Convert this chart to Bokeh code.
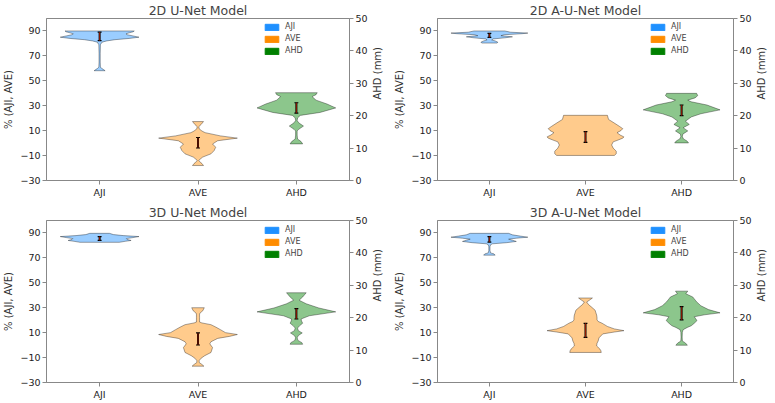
import math
from bokeh.plotting import figure
from bokeh.models import Range1d, LinearAxis, FixedTicker, Legend, LegendItem
from bokeh.layouts import column, row
from bokeh.embed import file_html
from bokeh.resources import INLINE

titles = ["2D U-Net Model", "2D A-U-Net Model", "3D U-Net Model", "3D A-U-Net Model"]
categories = ["AJI", "AVE", "AHD"]
left_ticks = [-30, -10, 10, 30, 50, 70, 90]
right_ticks = [0, 10, 20, 30, 40, 50]

# violin outlines: levels (axis units) and relative half-width (0..1)
unet2d_aji_y = [58.1, 59.0, 60.0, 61.0, 65, 72, 79, 81.0, 82.0, 83.0, 84.0, 85.0, 86.0, 87.0, 87.7, 88.5, 89.3, 90.0]
unet2d_aji_r = [0.14, 0.10, 0.05, 0.02, 0.015, 0.015, 0.02, 0.06, 0.18, 0.39, 0.75, 1.0, 0.85, 0.7, 0.67, 0.75, 0.85, 0.88]
unet2d_ave_y = [-18.0, -16.4, -14.5, -13.8, -11.2, -8.6, -6.0, -3.3, -0.7, 1.9, 4.0, 5.8, 8.4, 9.7, 11.5, 13.2, 15.0, 17.3]
unet2d_ave_r = [0.14, 0.10, 0.03, 0.02, 0.12, 0.33, 0.41, 0.45, 0.37, 0.5, 1.0, 0.57, 0.18, 0.1, 0.03, 0.02, 0.08, 0.14]
unet2d_ahd_y = [11.3, 12.0, 12.8, 14.0, 15.3, 15.8, 16.8, 17.8, 18.5, 19.3, 20.1, 21.0, 22.4, 23.6, 24.8, 25.9, 26.5, 27.1]
unet2d_ahd_r = [0.16, 0.12, 0.03, 0.02, 0.02, 0.06, 0.18, 0.06, 0.02, 0.03, 0.1, 0.6, 1.0, 0.78, 0.5, 0.4, 0.5, 0.53]

aunet2d_aji_y = [80.3, 81.0, 82.0, 82.8, 83.6, 84.5, 85.3, 86.2, 87.0, 87.8, 88.3, 89.0, 90.0]
aunet2d_aji_r = [0.2, 0.22, 0.15, 0.06, 0.1, 0.4, 0.6, 0.3, 0.4, 0.85, 1.0, 0.55, 0.4]
aunet2d_ave_y = [-9.9, -8.5, -6.5, -4.0, -1.5, 1.0, 2.5, 4.0, 5.0, 6.5, 8.4, 10.0, 11.6, 13.5, 16.3, 19.0, 22.3]
aunet2d_ave_r = [0.75, 0.8, 0.8, 0.72, 0.68, 0.72, 0.85, 0.97, 1.0, 0.9, 0.82, 0.92, 0.97, 0.88, 0.74, 0.6, 0.57]
aunet2d_ahd_y = [11.6, 12.2, 12.8, 13.5, 14.3, 15.3, 16.3, 17.3, 18.3, 19.6, 20.6, 21.8, 23.3, 24.3, 24.8, 25.5, 26.2, 26.9]
aunet2d_ahd_r = [0.18, 0.14, 0.05, 0.02, 0.03, 0.16, 0.04, 0.2, 0.1, 0.25, 0.5, 1.0, 0.66, 0.25, 0.16, 0.35, 0.42, 0.39]

unet3d_aji_y = [82.5, 83.3, 84.0, 84.8, 85.5, 86.3, 87.1, 87.9, 88.7, 89.7]
unet3d_aji_r = [0.5, 0.65, 0.8, 0.7, 0.68, 0.85, 1.0, 0.6, 0.35, 0.25]
unet3d_ave_y = [-16.9, -15.5, -14.0, -12.4, -10.5, -8.5, -5.9, -2.0, 1.0, 2.7, 5.4, 7.0, 8.5, 10.0, 12.4, 14.5, 16.4, 17.8, 18.5, 22.0, 25.0, 26.0, 27.5, 30.0]
unet3d_ave_r = [0.15, 0.1, 0.03, 0.03, 0.08, 0.17, 0.33, 0.37, 0.3, 0.33, 0.5, 0.8, 1.0, 0.7, 0.57, 0.45, 0.33, 0.1, 0.04, 0.04, 0.04, 0.06, 0.12, 0.16]
unet3d_ahd_y = [11.8, 12.3, 13.0, 13.8, 14.5, 15.3, 16.0, 16.8, 17.5, 18.3, 19.0, 19.6, 20.6, 21.8, 23.0, 24.3, 25.4, 26.4, 27.7]
unet3d_ahd_r = [0.16, 0.14, 0.04, 0.02, 0.05, 0.15, 0.05, 0.03, 0.08, 0.16, 0.13, 0.12, 0.33, 1.0, 0.57, 0.25, 0.07, 0.16, 0.25]

aunet3d_aji_y = [72.2, 73.2, 74.0, 76.0, 79.0, 80.5, 81.3, 82.2, 83.2, 84.2, 85.0, 85.8, 86.6, 87.5, 88.5, 89.7]
aunet3d_aji_r = [0.15, 0.12, 0.03, 0.015, 0.015, 0.03, 0.08, 0.45, 0.7, 0.6, 0.5, 0.7, 1.0, 0.8, 0.6, 0.5]
aunet3d_ave_y = [-5.9, -4.5, -3.0, -0.7, 1.5, 3.3, 5.8, 9.0, 10.5, 11.6, 13.0, 15.0, 17.6, 19.0, 20.2, 22.0, 24.1, 26.0, 28.0, 30.7, 32.5, 34.6, 36.0, 37.8]
aunet3d_ave_r = [0.41, 0.4, 0.37, 0.29, 0.3, 0.33, 0.35, 0.45, 0.75, 1.0, 0.75, 0.57, 0.43, 0.33, 0.30, 0.30, 0.29, 0.27, 0.25, 0.15, 0.08, 0.03, 0.1, 0.18]
aunet3d_ahd_y = [11.5, 12.2, 12.8, 14.0, 15.5, 16.3, 17.0, 17.5, 18.3, 19.1, 19.8, 20.3, 20.9, 21.5, 22.5, 23.7, 24.9, 25.8, 26.4, 27.0, 27.4, 28.2]
aunet3d_ahd_r = [0.15, 0.1, 0.02, 0.015, 0.02, 0.04, 0.15, 0.25, 0.33, 0.40, 0.36, 0.33, 0.6, 1.0, 0.7, 0.5, 0.39, 0.33, 0.29, 0.18, 0.11, 0.16]

# error bars (low, high) for AJI, AVE (%), AHD (mm)
unet2d_lo = [82.2, -3.9, 20.8]
unet2d_hi = [89.0, 4.5, 24.0]
aunet2d_lo = [84.8, 0.6, 20.0]
aunet2d_hi = [88.0, 9.2, 23.3]
unet3d_lo = [84.0, 0.1, 19.6]
unet3d_hi = [87.1, 9.8, 22.8]
aunet3d_lo = [82.7, 6.2, 19.3]
aunet3d_hi = [87.1, 17.5, 23.4]

colors = ["#1E90FF", "#FF8C00", "#008000"]
FONT = "DejaVu Sans"
HALF = 0.4
NAN = float("nan")


def violin(p, pos, ys, rs, color, range_name="default"):
    xs = [pos + HALF * r for r in rs] + [pos - HALF * r for r in reversed(rs)]
    yy = list(ys) + list(reversed(ys))
    p.patch(xs, yy, fill_color=color, fill_alpha=0.45, line_color="black", line_alpha=0.35,
            line_width=1, y_range_name=range_name)


def make_fig(title, data, lo, hi, width, height, left, right, top, bottom):
    p = figure(width=width, height=height, x_range=Range1d(0.46, 3.54), y_range=Range1d(-30, 100),
               output_backend="svg", toolbar_location=None, title=title,
               min_border_left=left, min_border_right=right, min_border_top=top, min_border_bottom=bottom)
    p.extra_y_ranges = {"ahd": Range1d(0, 50)}
    p.xgrid.visible = False
    p.ygrid.visible = False
    p.outline_line_color = "#888888"
    p.title.text_font = FONT
    p.title.text_font_size = "12.5px"
    p.title.text_font_style = "normal"
    p.title.align = "center"
    p.title.standoff = 1
    p.title.offset = 0

    (aji_y, aji_r), (ave_y, ave_r), (ahd_y, ahd_r) = data
    violin(p, 1, aji_y, aji_r, colors[0])
    violin(p, 2, ave_y, ave_r, colors[1])
    violin(p, 3, ahd_y, ahd_r, colors[2], "ahd")

    for i in range(3):
        rn = "ahd" if i == 2 else "default"
        pos = i + 1
        p.segment(x0=[pos], y0=[lo[i]], x1=[pos], y1=[hi[i]], line_color="black", line_width=2, y_range_name=rn)
        p.segment(x0=[pos - 0.02, pos - 0.02], y0=[lo[i], hi[i]], x1=[pos + 0.02, pos + 0.02], y1=[lo[i], hi[i]],
                  line_color="black", line_width=1.2, y_range_name=rn)
        p.segment(x0=[pos], y0=[lo[i]], x1=[pos], y1=[hi[i]], line_color="#cc2200", line_width=0.7, y_range_name=rn)

    fw = width - left - right
    fh = height - top - bottom

    # axes
    xa = p.xaxis[0]
    xa.ticker = FixedTicker(ticks=[1, 2, 3])
    xa.major_label_overrides = {1: categories[0], 2: categories[1], 3: categories[2]}
    ya = p.yaxis[0]
    ya.ticker = FixedTicker(ticks=left_ticks)
    ya.major_label_overrides = {t: (str(t).replace("-", "\u2212")) for t in left_ticks}
    ya.axis_label = "% (AJI, AVE)"
    ra = LinearAxis(y_range_name="ahd", ticker=FixedTicker(ticks=right_ticks), axis_label="AHD (mm)")
    p.add_layout(ra, "right")
    for ax in [xa, ya, ra]:
        ax.axis_line_color = "#888888"
        ax.major_tick_line_color = "#888888"
        ax.minor_tick_line_color = None
        ax.major_tick_in = 0
        ax.major_tick_out = 4
        ax.major_label_standoff = 2
        ax.axis_label_standoff = 3
        ax.major_label_text_font = FONT
        ax.major_label_text_font_size = "9.5px"
        ax.major_label_text_color = "#222222"
        ax.axis_label_text_font = FONT
        ax.axis_label_text_font_size = "10px"
        ax.axis_label_text_font_style = "normal"
        ax.axis_label_text_color = "#333333"
    # right axis title reads bottom to top, like the left one
    ra.axis_label_orientation = math.pi / 2
    ra.axis_label_standoff = 7

    # legend (proxy glyphs with no visible position)
    rends = []
    for c in colors:
        rends.append(p.quad(left=[NAN], right=[NAN], top=[NAN], bottom=[NAN], fill_color=c, line_color=c))
    items = [LegendItem(label=categories[i], renderers=[rends[i]]) for i in range(3)]
    lg = Legend(items=items, location=(round(fw * 0.703) - 2, fh - 40), border_line_color=None,
                background_fill_alpha=0, glyph_width=17, glyph_height=8, label_height=9,
                label_text_font=FONT, label_text_font_size="8px", spacing=3, padding=2,
                margin=0, label_standoff=5)
    p.add_layout(lg)
    return p


p1 = make_fig(titles[0], [(unet2d_aji_y, unet2d_aji_r), (unet2d_ave_y, unet2d_ave_r), (unet2d_ahd_y, unet2d_ahd_r)],
              unet2d_lo, unet2d_hi, 391, 200, 41, 38, 17, 18)
p2 = make_fig(titles[1], [(aunet2d_aji_y, aunet2d_aji_r), (aunet2d_ave_y, aunet2d_ave_r), (aunet2d_ahd_y, aunet2d_ahd_r)],
              aunet2d_lo, aunet2d_hi, 384, 200, 41, 38, 17, 18)
p3 = make_fig(titles[2], [(unet3d_aji_y, unet3d_aji_r), (unet3d_ave_y, unet3d_ave_r), (unet3d_ahd_y, unet3d_ahd_r)],
              unet3d_lo, unet3d_hi, 391, 202, 41, 38, 20, 18)
p4 = make_fig(titles[3], [(aunet3d_aji_y, aunet3d_aji_r), (aunet3d_ave_y, aunet3d_ave_r), (aunet3d_ahd_y, aunet3d_ahd_r)],
              aunet3d_lo, aunet3d_hi, 384, 202, 41, 38, 20, 18)

layout = column(row(p1, p2), row(p3, p4))
open("out.html", "w").write(file_html(layout, INLINE))
